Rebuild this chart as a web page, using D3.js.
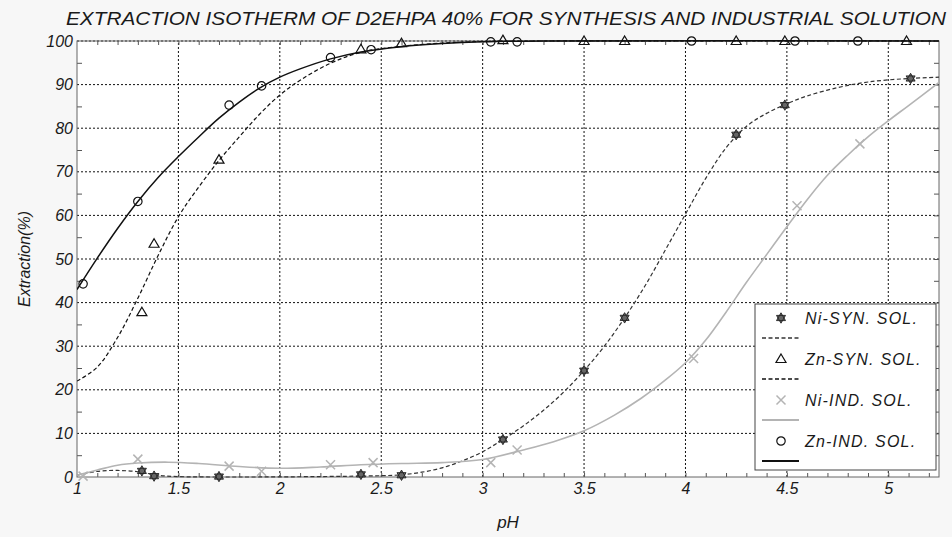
<!DOCTYPE html>
<html>
<head>
<meta charset="utf-8">
<script src="https://cdn.jsdelivr.net/npm/d3@7"></script>
<style>
  html, body { margin: 0; padding: 0; background: #f7f7f7; }
  svg { display: block; font-family: "Liberation Sans", Arial, sans-serif; font-style: italic; }
</style>
</head>
<body>
<div id="canvas"></div>
<script>
// measured points [pH, extraction %]
const niSynPoints = [[1.32, 1.4], [1.38, 0.2], [1.70, 0.1], [2.40, 0.6], [2.60, 0.4], [3.10, 8.6], [3.50, 24.4], [3.70, 36.5], [4.25, 78.5], [4.49, 85.3], [5.11, 91.4]];
const znSynPoints = [[1.32, 37.8], [1.38, 53.5], [1.70, 72.8], [2.40, 98.1], [2.60, 99.5], [3.10, 100.2], [3.50, 100], [3.70, 100], [4.25, 100], [4.49, 100], [5.09, 100]];
const niIndPoints = [[1.03, 0.2], [1.30, 4.1], [1.75, 2.5], [1.91, 1.3], [2.25, 2.8], [2.46, 3.3], [3.04, 3.3], [3.17, 6.2], [4.04, 27.2], [4.55, 62.2], [4.86, 76.4]];
const znIndPoints = [[1.03, 44.3], [1.30, 63.2], [1.75, 85.3], [1.91, 89.7], [2.25, 96.2], [2.45, 98.0], [3.04, 99.8], [3.17, 99.8], [4.03, 100], [4.54, 100], [4.85, 100]];

// fitted curves
const niSynFit = [[1.0, 0.4], [1.1, 1.3], [1.2, 1.5], [1.3, 1.2], [1.4, 0.4], [1.5, 0.1], [1.8, 0], [2.2, 0.1], [2.5, 0.3], [2.6, 0.5], [2.7, 1.1], [2.8, 2.1], [2.9, 3.7], [3.0, 5.8], [3.1, 8.6], [3.2, 11.7], [3.3, 15.3], [3.4, 19.5], [3.5, 24.4], [3.6, 30], [3.7, 36.5], [3.8, 43.8], [3.9, 52], [4.0, 60.3], [4.1, 68.5], [4.2, 75.5], [4.3, 80.4], [4.4, 83.4], [4.5, 85.6], [4.6, 87.4], [4.75, 89.3], [4.9, 90.6], [5.1, 91.4], [5.25, 91.7]];
const znSynFit = [[1.0, 22], [1.1, 25.2], [1.2, 32], [1.3, 41], [1.4, 50.8], [1.5, 59.7], [1.6, 66.5], [1.7, 72.6], [1.8, 78.0], [1.9, 83.2], [2.0, 87.6], [2.1, 91], [2.25, 94.9], [2.4, 97.4], [2.6, 98.8], [2.8, 99.5], [3.0, 99.9], [3.3, 100], [5.25, 100]];
const niIndFit = [[1.0, 0.4], [1.1, 1.6], [1.2, 2.7], [1.3, 3.2], [1.45, 3.4], [1.6, 3.1], [1.8, 2.4], [2.0, 2.0], [2.2, 2.3], [2.4, 2.8], [2.6, 3.1], [2.8, 3.3], [3.0, 4.0], [3.2, 6.2], [3.35, 8.1], [3.5, 10.6], [3.65, 14.2], [3.78, 18.0], [3.9, 22.2], [4.0, 26.2], [4.1, 31.4], [4.2, 37.8], [4.3, 44.6], [4.4, 51], [4.5, 57.4], [4.6, 63.6], [4.7, 69.2], [4.8, 73.8], [4.9, 78], [5.0, 81.7], [5.1, 85.2], [5.25, 90.5]];
const znIndFit = [[1.0, 43], [1.1, 50.2], [1.2, 57], [1.3, 63.2], [1.4, 68.7], [1.5, 73.5], [1.6, 78], [1.7, 82.3], [1.8, 86], [1.9, 89.2], [2.0, 91.7], [2.1, 93.6], [2.25, 95.9], [2.4, 97.5], [2.6, 98.7], [2.8, 99.4], [3.0, 99.8], [3.3, 100], [5.25, 100]];

const seriesNames = ["Ni-SYN. SOL.", "Zn-SYN. SOL.", "Ni-IND. SOL.", "Zn-IND. SOL."];
const xTicks = [1, 1.5, 2, 2.5, 3, 3.5, 4, 4.5, 5];
const yTicks = [0, 10, 20, 30, 40, 50, 60, 70, 80, 90, 100];

const titleText = "EXTRACTION ISOTHERM OF D2EHPA 40% FOR SYNTHESIS AND INDUSTRIAL SOLUTION";

const width = 952;
const height = 537;
const margin = { top: 41, right: 13, bottom: 60, left: 77 };

const x = d3.scaleLinear([1, 5.25], [margin.left, width - margin.right]);
const y = d3.scaleLinear([0, 100], [height - margin.bottom, margin.top]);

const svg = d3
  .select("#canvas")
  .append("svg")
  .attr("width", width)
  .attr("height", height)
  .attr("viewBox", [0, 0, width, height]);

svg.append("rect").attr("width", width).attr("height", height).attr("fill", "#f7f7f7");

svg
  .append("rect")
  .attr("x", x(1))
  .attr("y", y(100))
  .attr("width", x(5.25) - x(1))
  .attr("height", y(0) - y(100))
  .attr("fill", "#fff");

svg.append("clipPath").attr("id", "plot-clip")
  .append("rect")
  .attr("x", x(1))
  .attr("y", y(100) - 6)
  .attr("width", x(5.25) - x(1))
  .attr("height", y(0) - y(100) + 9);

// grid
svg
  .append("g")
  .selectAll("line")
  .data(xTicks.filter((d) => d > 1))
  .join("line")
  .attr("x1", (d) => x(d))
  .attr("x2", (d) => x(d))
  .attr("y1", y(0))
  .attr("y2", y(100))
  .attr("stroke", "#111")
  .attr("stroke-dasharray", "2,2");

svg
  .append("g")
  .selectAll("line")
  .data(yTicks.filter((d) => d > 0))
  .join("line")
  .attr("x1", x(1))
  .attr("x2", x(5.25))
  .attr("y1", (d) => y(d))
  .attr("y2", (d) => y(d))
  .attr("stroke", "#111")
  .attr("stroke-dasharray", "2,2");

// frame and small ticks
const minorX = d3.range(11, 53).map((d) => d / 10);
const minorY = d3.range(5, 100, 5);

svg.append("g")
  .attr("transform", `translate(0,${y(0)})`)
  .call(d3.axisBottom(x).tickValues(minorX).tickSize(-4).tickFormat(""))
  .call((g) => g.select(".domain").remove())
  .call((g) => g.selectAll("line").attr("stroke", "#555"));

svg.append("g")
  .attr("transform", `translate(0,${y(100)})`)
  .call(d3.axisTop(x).tickValues(minorX).tickSize(-4).tickFormat(""))
  .call((g) => g.select(".domain").remove())
  .call((g) => g.selectAll("line").attr("stroke", "#555"));

svg.append("g")
  .attr("transform", `translate(${x(1)},0)`)
  .call(d3.axisLeft(y).tickValues(minorY.filter((d) => d % 10)).tickSize(-5).tickFormat(""))
  .call((g) => g.select(".domain").remove())
  .call((g) => g.selectAll("line").attr("stroke", "#555"));

svg.append("g")
  .attr("transform", `translate(${x(5.25)},0)`)
  .call(d3.axisRight(y).tickValues(minorY).tickSize(-5).tickFormat(""))
  .call((g) => g.select(".domain").remove())
  .call((g) => g.selectAll("line").attr("stroke", "#555"));

svg
  .append("rect")
  .attr("x", x(1))
  .attr("y", y(100))
  .attr("width", x(5.25) - x(1))
  .attr("height", y(0) - y(100))
  .attr("fill", "none")
  .attr("stroke", "#666");

// tick labels
svg.append("g")
  .attr("transform", `translate(0,${y(0)})`)
  .call(d3.axisBottom(x).tickValues(xTicks).tickSize(0).tickPadding(6).tickFormat((d) => d))
  .call((g) => g.select(".domain").remove())
  .call((g) => g.selectAll("text")
    .attr("font-family", "Liberation Sans, Arial, sans-serif")
    .attr("font-style", "italic")
    .attr("font-size", 16)
    .attr("fill", "#1a1a1a"));

svg.append("g")
  .attr("transform", `translate(${x(1)},0)`)
  .call(d3.axisLeft(y).tickValues(yTicks).tickSize(0).tickPadding(4))
  .call((g) => g.select(".domain").remove())
  .call((g) => g.selectAll("text")
    .attr("font-family", "Liberation Sans, Arial, sans-serif")
    .attr("font-style", "italic")
    .attr("font-size", 16)
    .attr("fill", "#1a1a1a"));

// titles
svg.append("text")
  .attr("x", 506)
  .attr("y", 25)
  .attr("text-anchor", "middle")
  .attr("font-size", 18)
  .attr("textLength", 880)
  .attr("lengthAdjust", "spacingAndGlyphs")
  .attr("fill", "#1a1a1a")
  .text(titleText);

svg.append("text")
  .attr("transform", `translate(30,${(y(0) + y(100)) / 2}) rotate(-90)`)
  .attr("text-anchor", "middle")
  .attr("font-size", 16)
  .attr("fill", "#1a1a1a")
  .text("Extraction(%)");

svg.append("text")
  .attr("x", (x(1) + x(5.25)) / 2)
  .attr("y", 528)
  .attr("text-anchor", "middle")
  .attr("font-size", 17)
  .attr("fill", "#1a1a1a")
  .text("pH");

// markers
const hexagram = (r) => {
  const pt = (a) => [r * Math.cos((a * Math.PI) / 180), r * Math.sin((a * Math.PI) / 180)];
  const up = [-90, 30, 150].map(pt);
  const down = [90, 210, 330].map(pt);
  return "M" + up.join("L") + "Z" + "M" + down.join("L") + "Z";
};
const triangle = "M0,-5L5,3.5L-5,3.5Z";
const cross = "M-4.5,-4.5L4.5,4.5M-4.5,4.5L4.5,-4.5";

const series = [
  { name: seriesNames[0], points: niSynPoints, fit: niSynFit, color: "#333", dash: "4,2.5", width: 1.2,
    marker: (g) => g.append("path").attr("d", hexagram(5.2)).attr("fill", "#666").attr("stroke", "#222").attr("stroke-width", 0.9) },
  { name: seriesNames[1], points: znSynPoints, fit: znSynFit, color: "#111", dash: "4,2.5", width: 1.2,
    marker: (g) => g.append("path").attr("d", triangle).attr("fill", "none").attr("stroke", "#111").attr("stroke-width", 1.2) },
  { name: seriesNames[2], points: niIndPoints, fit: niIndFit, color: "#b4b4b4", dash: null, width: 1.6,
    marker: (g) => g.append("path").attr("d", cross).attr("fill", "none").attr("stroke", "#b4b4b4").attr("stroke-width", 1.5) },
  { name: seriesNames[3], points: znIndPoints, fit: znIndFit, color: "#111", dash: null, width: 1.5,
    marker: (g) => g.append("circle").attr("r", 4.2).attr("fill", "none").attr("stroke", "#111").attr("stroke-width", 1.2) },
];

const line = d3
  .line()
  .x((d) => x(d[0]))
  .y((d) => y(d[1]))
  .curve(d3.curveCatmullRom.alpha(0.5));

const plot = svg.append("g").attr("clip-path", "url(#plot-clip)");

for (const s of series) {
  plot
    .append("path")
    .attr("fill", "none")
    .attr("stroke", s.color)
    .attr("stroke-width", s.width)
    .attr("stroke-dasharray", s.dash)
    .attr("d", line(s.fit));
}

for (const s of series) {
  svg
    .append("g")
    .selectAll("g")
    .data(s.points)
    .join("g")
    .attr("transform", (d) => `translate(${x(d[0])},${y(d[1])})`)
    .each(function () {
      s.marker(d3.select(this));
    });
}

// legend
const legend = svg.append("g").attr("transform", "translate(755,304)");
legend
  .append("rect")
  .attr("width", 181)
  .attr("height", 166)
  .attr("fill", "#fff")
  .attr("stroke", "#444");

series.forEach((s, i) => {
  const row = legend.append("g").attr("transform", `translate(0,${14 + i * 41})`);
  s.marker(row.append("g").attr("transform", "translate(26,0)"));
  row
    .append("text")
    .attr("x", 50)
    .attr("y", 0)
    .attr("dy", "0.35em")
    .attr("font-size", 16)
    .attr("letter-spacing", 1.2)
    .attr("fill", "#1a1a1a")
    .text(s.name);
  row
    .append("line")
    .attr("x1", 7)
    .attr("x2", 44)
    .attr("y1", 20)
    .attr("y2", 20)
    .attr("stroke", s.color)
    .attr("stroke-width", s.width + 0.4)
    .attr("stroke-dasharray", s.dash);
});
</script>
</body>
</html>
